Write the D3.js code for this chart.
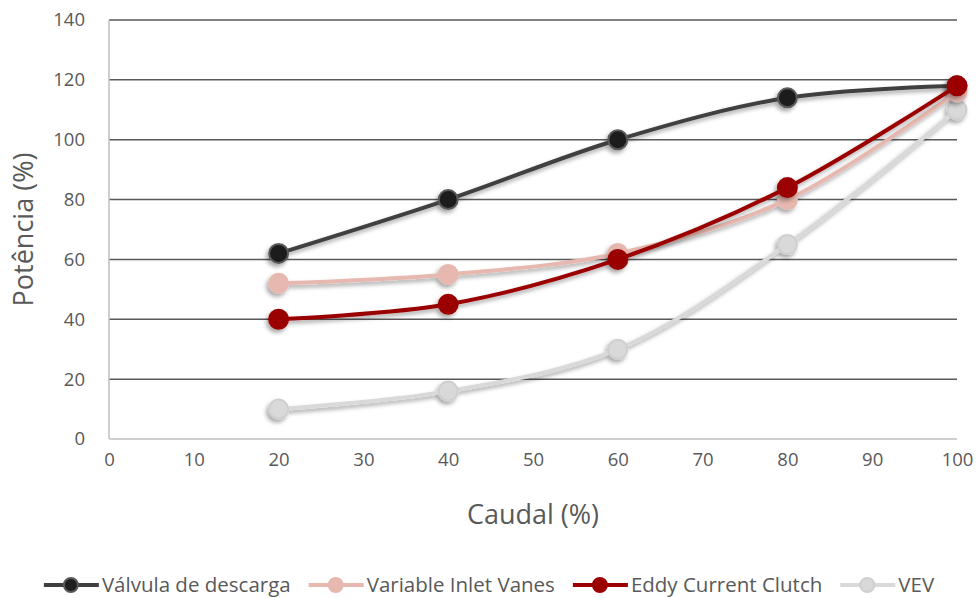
<!DOCTYPE html>
<html>
<head>
<meta charset="utf-8">
<script src="https://cdn.jsdelivr.net/npm/d3@7"></script>
<style>
  body { margin: 0; background: #fff; }
  text { font-family: "Open Sans", sans-serif; fill: #595959; }
</style>
</head>
<body>
<svg id="chart" width="978" height="598"></svg>
<script>
// data
var caudal = [20, 40, 60, 80, 100];
var valvula = [62, 80, 100, 114, 118];
var inletVanes = [52, 55, 62, 80, 116];
var eddy = [40, 45, 60, 84, 118];
var vev = [10, 16, 30, 65, 110];
var xTicks = [0, 10, 20, 30, 40, 50, 60, 70, 80, 90, 100];
var yTicks = [0, 20, 40, 60, 80, 100, 120, 140];

var series = [
    {name: "Válvula de descarga", values: valvula, color: "#404040", fill: "#1f1f1f", ring: "#5a5a5a"},
    {name: "Variable Inlet Vanes", values: inletVanes, color: "#e6b8af", fill: "#e6b8af", ring: "#e6b8af"},
    {name: "Eddy Current Clutch", values: eddy, color: "#9b0000", fill: "#9b0000", ring: "#9b0000"},
    {name: "VEV", values: vev, color: "#d9d9d9", fill: "#d9d9d9", ring: "#cfcfcf"}
];

var svg = d3.select("#chart");
var plotLeft = 109, plotRight = 957, plotTop = 20, plotBottom = 439;

var x = d3.scaleLinear().domain([0, 100]).range([plotLeft, plotRight]);
var y = d3.scaleLinear().domain([0, 140]).range([plotBottom, plotTop]);

var defs = svg.append("defs");
var f = defs.append("filter").attr("id", "shadow")
    .attr("x", "-50%").attr("y", "-50%").attr("width", "200%").attr("height", "200%");
f.append("feDropShadow").attr("dx", -2).attr("dy", 3).attr("stdDeviation", 2.2)
    .attr("flood-color", "#000").attr("flood-opacity", 0.35);

// gridlines
svg.append("g").selectAll("line")
    .data(yTicks.filter(function (d) { return d > 0; }))
    .enter().append("line")
    .attr("x1", plotLeft).attr("x2", plotRight)
    .attr("y1", function (d) { return y(d); })
    .attr("y2", function (d) { return y(d); })
    .attr("stroke", "#595959").attr("stroke-width", 1.5);

// axis lines
svg.append("line").attr("x1", plotLeft).attr("x2", plotRight).attr("y1", y(0)).attr("y2", y(0))
    .attr("stroke", "#bfbfbf").attr("stroke-width", 1.5);
svg.append("line").attr("x1", plotLeft).attr("x2", plotLeft).attr("y1", y(0)).attr("y2", y(140))
    .attr("stroke", "#bfbfbf").attr("stroke-width", 1.5);

// tick labels via axes
var yAxis = svg.append("g").attr("transform", "translate(" + plotLeft + ",0)")
    .call(d3.axisLeft(y).tickValues(yTicks).tickSize(0).tickPadding(24));
var xAxis = svg.append("g").attr("transform", "translate(0," + plotBottom + ")")
    .call(d3.axisBottom(x).tickValues(xTicks).tickSize(0).tickPadding(14));
[yAxis, xAxis].forEach(function (a) {
    a.select(".domain").remove();
    a.selectAll("text").style("font-size", "18.5px").style("fill", "#595959")
        .style("font-family", "'Open Sans', sans-serif");
});

// axis titles
svg.append("text").attr("x", (plotLeft + plotRight) / 2).attr("y", 524)
    .attr("text-anchor", "middle").style("font-size", "27px").text("Caudal (%)");
svg.append("text").attr("transform", "translate(33," + ((plotTop + plotBottom) / 2) + ") rotate(-90)")
    .attr("text-anchor", "middle").style("font-size", "27px").text("Potência (%)");

// lines
var line = d3.line()
    .x(function (d, i) { return x(caudal[i]); })
    .y(function (d) { return y(d); })
    .curve(d3.curveCatmullRom.alpha(0.5));

var drawOrder = [3, 0, 1, 2];
drawOrder.forEach(function (k) {
    var s = series[k];
    var g = svg.append("g").attr("filter", "url(#shadow)");
    g.append("path").datum(s.values).attr("d", line)
        .attr("fill", "none").attr("stroke", s.color).attr("stroke-width", 4);
    g.selectAll("circle").data(s.values).enter().append("circle")
        .attr("cx", function (d, i) { return x(caudal[i]); })
        .attr("cy", function (d) { return y(d); })
        .attr("r", 9.5)
        .attr("fill", s.fill).attr("stroke", s.ring).attr("stroke-width", 2);
});

// legend
var legend = svg.append("g");
var cursor = 0;
series.forEach(function (s) {
    var item = legend.append("g").attr("transform", "translate(" + cursor + ",0)");
    item.append("line").attr("x1", 0).attr("x2", 55).attr("y1", 0).attr("y2", 0)
        .attr("stroke", s.color).attr("stroke-width", 4);
    item.append("circle").attr("cx", 27).attr("cy", 0).attr("r", 7)
        .attr("fill", s.fill).attr("stroke", s.ring).attr("stroke-width", 2);
    var t = item.append("text").attr("x", 58).attr("y", 7).style("font-size", "20.5px").text(s.name);
    cursor += 58 + t.node().getComputedTextLength() + 18;
});
cursor -= 18;
legend.attr("transform", "translate(" + (489 - cursor / 2) + ",585)");
</script>
</body>
</html>
